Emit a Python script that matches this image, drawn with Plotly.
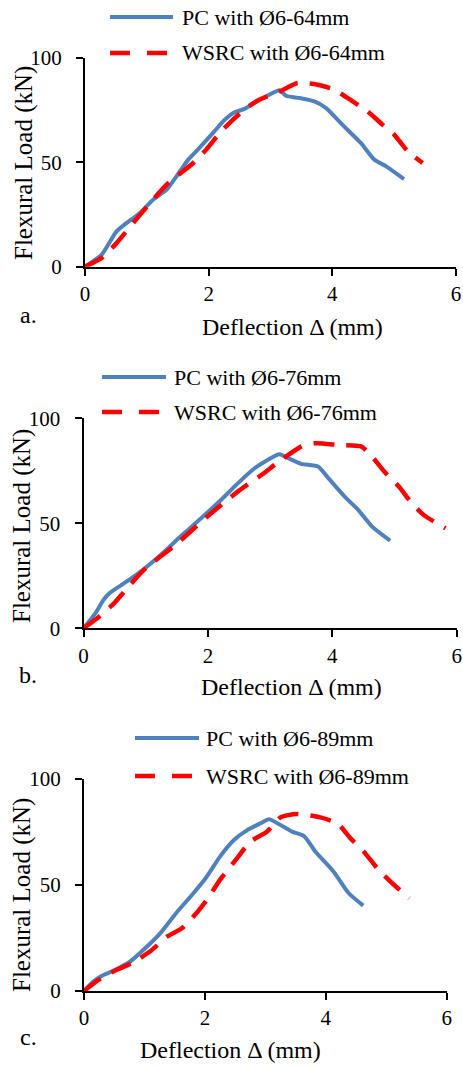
import plotly.graph_objects as go

W, H = 463, 1066

# ---- data: deflection (mm) vs flexural load (kN) ----
pc64_x = [0, 0.27, 0.51, 0.67, 0.89, 1.10, 1.32, 1.48, 1.67, 1.85, 2.07, 2.26, 2.42, 2.58, 2.77, 2.98, 3.15,
          3.25, 3.47, 3.71, 3.90, 4.11, 4.27, 4.46, 4.68, 4.87, 5.16]
pc64_y = [0, 5.8, 16.9, 20.9, 25.7, 32.1, 36.9, 43.3, 51.3, 56.9, 64.1, 70.4, 74.0, 75.6, 79.2, 82.4, 84.5,
          81.9, 80.8, 79.2, 76.0, 69.6, 64.9, 59.3, 51.3, 48.1, 42.0]
ws64_x = [0, 0.27, 0.51, 0.89, 1.32, 1.75, 1.96, 2.18, 2.39, 2.61, 2.82, 3.15, 3.44, 3.76, 4.03, 4.33, 4.57,
          4.81, 5.00, 5.22, 5.46]
ws64_y = [0, 4.2, 11.3, 24.9, 39.3, 49.7, 56.1, 64.1, 70.4, 76.0, 80.0, 84.0, 88.0, 87.2, 84.8, 79.2, 74.4,
          68.1, 63.3, 55.3, 49.7]

pc76_x = [0, 0.19, 0.32, 0.43, 0.65, 0.92, 1.24, 1.56, 1.89, 2.21, 2.48, 2.75, 2.96, 3.15, 3.29, 3.50, 3.77,
          3.94, 4.20, 4.42, 4.64, 4.93]
pc76_y = [0, 7.1, 13.5, 17.0, 21.4, 27.0, 34.9, 43.7, 52.4, 61.1, 69.0, 76.2, 80.2, 82.9, 81.0, 78.3, 77.0,
          71.4, 62.7, 56.3, 48.4, 41.7]
ws76_x = [0, 0.22, 0.49, 0.70, 0.97, 1.51, 1.99, 2.48, 2.86, 3.18, 3.50, 3.72, 4.10, 4.47, 4.64, 4.86, 5.07,
          5.28, 5.47, 5.82]
ws76_y = [0, 4.8, 11.9, 19.0, 27.8, 40.5, 53.2, 65.1, 73.0, 80.2, 86.5, 88.1, 87.3, 86.5, 81.7, 73.8, 67.5,
          59.5, 54.0, 47.6]

pc89_x = [0, 0.15, 0.29, 0.51, 0.76, 0.98, 1.26, 1.52, 1.81, 2.03, 2.25, 2.48, 2.70, 2.92, 3.06, 3.25, 3.44,
          3.64, 3.83, 4.13, 4.38, 4.62]
pc89_y = [0, 4.4, 7.1, 9.9, 13.8, 19.3, 27.2, 36.6, 46.1, 53.9, 63.4, 71.2, 75.9, 79.1, 81.0, 78.3, 75.2,
          73.1, 65.7, 56.3, 46.1, 40.3]
ws89_x = [0, 0.24, 0.51, 0.79, 1.09, 1.37, 1.62, 1.81, 2.03, 2.25, 2.53, 2.75, 3.03, 3.25, 3.52, 3.91, 4.19,
          4.41, 4.63, 4.85, 5.07, 5.38]
ws89_y = [0, 5.2, 9.6, 13.1, 18.6, 25.6, 29.6, 35.1, 42.9, 52.4, 62.6, 70.4, 75.2, 81.9, 83.5, 81.9, 79.1,
          72.0, 65.7, 57.9, 51.6, 43.7]

x_ticks = [0, 2, 4, 6]
y_ticks = [0, 50, 100]
spacings = ["64", "76", "89"]
panel_tags = ["a.", "b.", "c."]
x_title = "Deflection Δ (mm)"
y_title = "Flexural Load (kN)"

BLUE = "#4F81BD"
RED = "#FF0000"
FONT = "Liberation Serif"
DASH = "21px,12px"

series = [(pc64_x, pc64_y, ws64_x, ws64_y),
          (pc76_x, pc76_y, ws76_x, ws76_y),
          (pc89_x, pc89_y, ws89_x, ws89_y)]

# panel geometry in pixels: x-axis left/right, y-axis bottom/top
panels = [
    dict(xl=85.0, xr=456.0, yb=266.7, yt=58.0,
         leg_x0=110, leg_x1=173, leg_y=(17, 53), leg_tx=180,
         tag=(18, 315), xt=(292, 327), yt_c=(24, 163)),
    dict(xl=83.5, xr=456.7, yb=628.3, yt=418.3,
         leg_x0=102, leg_x1=166, leg_y=(377, 412), leg_tx=172,
         tag=(17, 675), xt=(291, 687), yt_c=(22, 526)),
    dict(xl=84.0, xr=446.7, yb=991.0, yt=779.0,
         leg_x0=135, leg_x1=199, leg_y=(738, 776), leg_tx=204,
         tag=(18, 1037), xt=(230, 1050), yt_c=(22, 895)),
]


def px(x):
    return x / W


def py(y):
    return 1 - y / H


fig = go.Figure()
layout = dict(width=W, height=H, margin=dict(l=0, r=0, t=0, b=0, pad=0, autoexpand=False),
              paper_bgcolor="white", plot_bgcolor="white", showlegend=False,
              font=dict(family=FONT, size=20, color="black"))
annotations = []
shapes = []

for i, (p, (pcx, pcy, wsx, wsy)) in enumerate(zip(panels, series)):
    n = "" if i == 0 else str(i + 1)
    xa, ya = "x" + n, "y" + n
    fig.add_trace(go.Scatter(x=pcx, y=pcy, mode="lines", xaxis=xa, yaxis=ya,
                             line=dict(color=BLUE, width=4, shape="spline", smoothing=0.6),
                             name=f"PC with Ø6-{spacings[i]}mm"))
    fig.add_trace(go.Scatter(x=wsx, y=wsy, mode="lines", xaxis=xa, yaxis=ya,
                             line=dict(color=RED, width=4.5, dash=DASH, shape="spline", smoothing=0.6),
                             name=f"WSRC with Ø6-{spacings[i]}mm"))

    axis_common = dict(showgrid=False, zeroline=False, showline=True, linecolor="black", linewidth=2,
                       ticks="outside", ticklen=7, tickwidth=2, tickcolor="black", automargin=False,
                       tickfont=dict(family=FONT, size=21, color="black"))
    layout["xaxis" + n] = dict(domain=[px(p["xl"]), px(p["xr"])], range=[0, 6], anchor=ya,
                               tickvals=x_ticks, ticklabelstandoff=0, **axis_common)
    layout["yaxis" + n] = dict(domain=[py(p["yb"]), py(p["yt"])], range=[0, 100], anchor=xa,
                               tickvals=y_ticks, ticklabelstandoff=10, **axis_common)

    # legend block
    shapes.append(dict(type="line", xref="paper", yref="paper",
                       x0=px(p["leg_x0"]), x1=px(p["leg_x1"]), y0=py(p["leg_y"][0]), y1=py(p["leg_y"][0]),
                       line=dict(color=BLUE, width=4)))
    shapes.append(dict(type="line", xref="paper", yref="paper",
                       x0=px(p["leg_x0"]), x1=px(p["leg_x1"]), y0=py(p["leg_y"][1]), y1=py(p["leg_y"][1]),
                       line=dict(color=RED, width=4.5, dash="20px,17px")))
    for k, label in enumerate([f"PC with Ø6-{spacings[i]}mm", f"WSRC with Ø6-{spacings[i]}mm"]):
        annotations.append(dict(text=label, xref="paper", yref="paper", x=px(p["leg_tx"]), y=py(p["leg_y"][k]),
                                xanchor="left", yanchor="middle", showarrow=False,
                                font=dict(family=FONT, size=22, color="black")))

    # panel tag and axis titles
    annotations.append(dict(text=panel_tags[i], xref="paper", yref="paper", x=px(p["tag"][0]), y=py(p["tag"][1]),
                            xanchor="left", yanchor="middle", showarrow=False,
                            font=dict(family=FONT, size=24, color="black")))
    annotations.append(dict(text=x_title, xref="paper", yref="paper", x=px(p["xt"][0]), y=py(p["xt"][1]),
                            xanchor="center", yanchor="middle", showarrow=False,
                            font=dict(family=FONT, size=24, color="black")))
    annotations.append(dict(text=y_title, xref="paper", yref="paper", x=px(p["yt_c"][0]), y=py(p["yt_c"][1]),
                            xanchor="center", yanchor="middle", textangle=-90, showarrow=False,
                            font=dict(family=FONT, size=25, color="black")))

layout["annotations"] = annotations
layout["shapes"] = shapes
fig.update_layout(**layout)
fig.write_html("out.html")
